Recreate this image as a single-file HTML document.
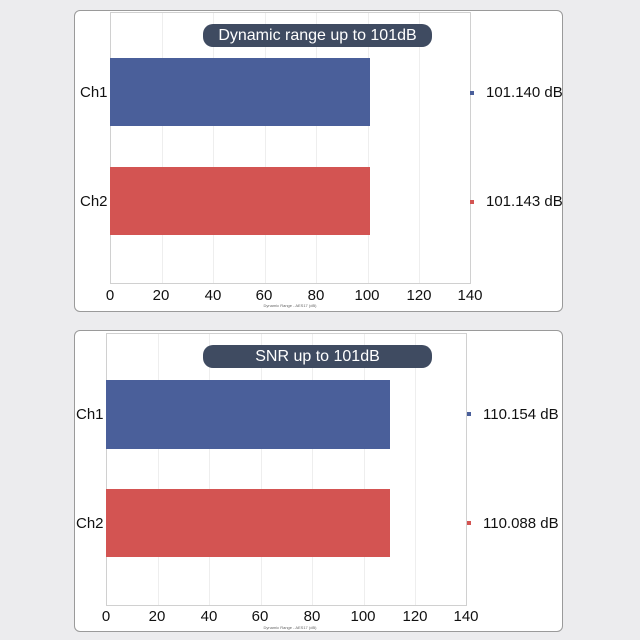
<!DOCTYPE html><html><head><style>
body{margin:0;width:640px;height:640px;background:#ececee;font-family:"Liberation Sans",sans-serif;position:relative;overflow:hidden}
.a{position:absolute}
.panel{position:absolute;background:#fff;border:1px solid #9a9a9a;border-radius:6px;box-sizing:border-box}
.plot{position:absolute;border:1px solid #d0d0d0;box-sizing:border-box}
.g{position:absolute;top:0;bottom:0;width:1px;background:#eeeeee}
.title{position:absolute;background:#3f4b61;color:#fff;border-radius:10px;text-align:center;font-size:16px;line-height:23px;width:229px;height:23px}
.lbl{position:absolute;font-size:15px;color:#111}
.tk{position:absolute;font-size:15px;color:#111;width:40px;text-align:center;margin-left:-20px}
.sq{position:absolute;width:4px;height:4px}
.cap{position:absolute;font-size:4px;color:#666;width:100px;text-align:center}
</style></head><body>
<div class="panel" style="left:74px;top:10px;width:489px;height:302px"></div>
<div class="plot" style="left:110px;top:12px;width:361px;height:272px">
<div class="g" style="left:51px"></div><div class="g" style="left:102px"></div><div class="g" style="left:154px"></div><div class="g" style="left:205px"></div><div class="g" style="left:257px"></div><div class="g" style="left:308px"></div>
</div>
<div class="a" style="left:110px;top:58px;width:260px;height:68px;background:#4a5f9a"></div>
<div class="a" style="left:110px;top:167px;width:260px;height:68px;background:#d35452"></div>
<div class="title" style="left:203px;top:24px">Dynamic range up to 101dB</div>
<div class="lbl" style="left:80px;top:84px">Ch1</div>
<div class="lbl" style="left:80px;top:193px">Ch2</div>
<div class="sq" style="left:470px;top:91px;background:#4a5f9a"></div>
<div class="sq" style="left:470px;top:200px;background:#d35452"></div>
<div class="lbl" style="left:486px;top:84px">101.140 dB</div>
<div class="lbl" style="left:486px;top:193px">101.143 dB</div>
<div class="tk" style="left:110px;top:287px">0</div><div class="tk" style="left:161px;top:287px">20</div><div class="tk" style="left:213px;top:287px">40</div><div class="tk" style="left:264px;top:287px">60</div><div class="tk" style="left:316px;top:287px">80</div><div class="tk" style="left:367px;top:287px">100</div><div class="tk" style="left:419px;top:287px">120</div><div class="tk" style="left:470px;top:287px">140</div>
<div class="cap" style="left:240px;top:303px">Dynamic Range - AES17 (dB)</div>

<div class="panel" style="left:74px;top:330px;width:489px;height:302px"></div>
<div class="plot" style="left:106px;top:333px;width:361px;height:273px">
<div class="g" style="left:51px"></div><div class="g" style="left:102px"></div><div class="g" style="left:154px"></div><div class="g" style="left:205px"></div><div class="g" style="left:257px"></div><div class="g" style="left:308px"></div>
</div>
<div class="a" style="left:106px;top:380px;width:284px;height:69px;background:#4a5f9a"></div>
<div class="a" style="left:106px;top:489px;width:284px;height:68px;background:#d35452"></div>
<div class="title" style="left:203px;top:345px">SNR up to 101dB</div>
<div class="lbl" style="left:76px;top:406px">Ch1</div>
<div class="lbl" style="left:76px;top:515px">Ch2</div>
<div class="sq" style="left:467px;top:412px;background:#4a5f9a"></div>
<div class="sq" style="left:467px;top:521px;background:#d35452"></div>
<div class="lbl" style="left:483px;top:406px">110.154 dB</div>
<div class="lbl" style="left:483px;top:515px">110.088 dB</div>
<div class="tk" style="left:106px;top:608px">0</div><div class="tk" style="left:157px;top:608px">20</div><div class="tk" style="left:209px;top:608px">40</div><div class="tk" style="left:260px;top:608px">60</div><div class="tk" style="left:312px;top:608px">80</div><div class="tk" style="left:363px;top:608px">100</div><div class="tk" style="left:415px;top:608px">120</div><div class="tk" style="left:466px;top:608px">140</div>
<div class="cap" style="left:240px;top:625px">Dynamic Range - AES17 (dB)</div>
</body></html>
